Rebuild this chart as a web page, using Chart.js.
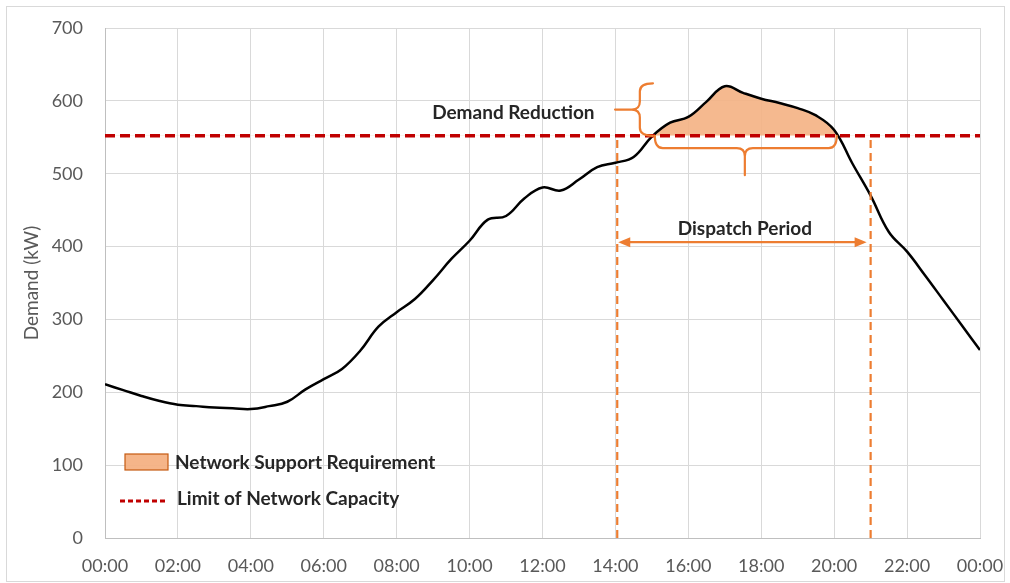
<!DOCTYPE html>
<html>
<head>
<meta charset="utf-8">
<script src="https://cdn.jsdelivr.net/npm/chart.js@4"></script>
<style>
  body { margin: 0; background: #fff; }
  #wrap { position: relative; width: 1010px; height: 583px; }
</style>
</head>
<body>
<div id="wrap"><canvas id="myChart" width="1010" height="583"></canvas></div>
<script>
// half-hourly demand (kW)
var hours = [0,0.5,1,1.5,2,2.5,3,3.5,4,4.5,5,5.5,6,6.5,7,7.5,8,8.5,9,9.5,10,10.5,11,11.5,
             12,12.5,13,13.5,14,14.5,15,15.5,16,16.5,17,17.5,18,18.5,19,19.5,20,20.5,21,21.5,
             22,22.5,23,23.5,24];
var demand = [211,203,195,188,183,181,179,178,177,181,187,204,218,232,257,290,310,328,354,383,
              408,437,442,466,481,477,492,509,515,523,551,570,578,599,620,611,603,597,590,580,
              560,514,470,420,393,360,326,292,258];
var capacity = 552;
var dispatchStart = 14.05;
var dispatchEnd = 21;
var yTicks = [0,100,200,300,400,500,600,700];
var xTicks = [0,2,4,6,8,10,12,14,16,18,20,22,24];

function hhmm(h) {
  var v = h % 24;
  return (v < 10 ? "0" : "") + v + ":00";
}

var orange = "#ED7D31";
var textDark = "#262626";
var axisGrey = "#595959";

var annotations = {
  id: "annotations",
  beforeDraw: function(chart) {
    var ctx = chart.ctx;
    ctx.save();
    ctx.strokeStyle = "#d9d9d9";
    ctx.lineWidth = 1;
    ctx.strokeRect(6.5, 6.5, 998, 575);
    ctx.restore();
  },
  afterDatasetsDraw: function(chart) {
    var ctx = chart.ctx;
    var x = chart.scales.x, y = chart.scales.y;
    var area = chart.chartArea;
    ctx.save();
    ctx.strokeStyle = orange;
    ctx.fillStyle = orange;
    ctx.lineWidth = 2.2;
    ctx.lineCap = "round";

    // vertical brace (demand reduction)
    var ex = x.getPixelForValue(15.03), sx = x.getPixelForValue(14.67), tx = x.getPixelForValue(13.99);
    var y1 = y.getPixelForValue(624), y2 = y.getPixelForValue(capacity), ym = y.getPixelForValue(588);
    var r = 8;
    ctx.beginPath();
    ctx.moveTo(ex, y1);
    ctx.quadraticCurveTo(sx, y1, sx, y1 + r);
    ctx.lineTo(sx, ym - r);
    ctx.quadraticCurveTo(sx, ym, sx - r, ym);
    ctx.lineTo(tx, ym);
    ctx.moveTo(sx - r, ym);
    ctx.quadraticCurveTo(sx, ym, sx, ym + r);
    ctx.lineTo(sx, y2 - r);
    ctx.quadraticCurveTo(sx, y2, ex, y2);
    ctx.stroke();

    // horizontal brace (peak period)
    var x1 = x.getPixelForValue(15.08), x2 = x.getPixelForValue(20.07), xm = x.getPixelForValue(17.55);
    var ey = y.getPixelForValue(capacity), sy = y.getPixelForValue(535), ty = y.getPixelForValue(498);
    ctx.beginPath();
    ctx.moveTo(x1, ey);
    ctx.quadraticCurveTo(x1, sy, x1 + r, sy);
    ctx.lineTo(xm - r, sy);
    ctx.quadraticCurveTo(xm, sy, xm, sy + r);
    ctx.lineTo(xm, ty);
    ctx.moveTo(xm, sy + r);
    ctx.quadraticCurveTo(xm, sy, xm + r, sy);
    ctx.lineTo(x2 - r, sy);
    ctx.quadraticCurveTo(x2, sy, x2, ey);
    ctx.stroke();

    // dispatch arrow
    var ax1 = x.getPixelForValue(dispatchStart) + 1, ax2 = x.getPixelForValue(dispatchEnd) - 4;
    var ay = y.getPixelForValue(406);
    ctx.beginPath();
    ctx.moveTo(ax1 + 6, ay);
    ctx.lineTo(ax2 - 6, ay);
    ctx.stroke();
    ctx.beginPath();
    ctx.moveTo(ax1, ay);
    ctx.lineTo(ax1 + 12, ay - 5);
    ctx.lineTo(ax1 + 12, ay + 5);
    ctx.closePath();
    ctx.fill();
    ctx.beginPath();
    ctx.moveTo(ax2, ay);
    ctx.lineTo(ax2 - 12, ay - 5);
    ctx.lineTo(ax2 - 12, ay + 5);
    ctx.closePath();
    ctx.fill();

    // labels
    ctx.fillStyle = textDark;
    ctx.font = "bold 19px Lato";
    ctx.textAlign = "center";
    ctx.textBaseline = "middle";
    ctx.fillText("Dispatch Period", x.getPixelForValue(17.55), y.getPixelForValue(424));
    ctx.fillText("Demand Reduction", x.getPixelForValue(11.2), y.getPixelForValue(583));

    // legend inside plot area
    var lx = area.left + 20, ly = area.bottom - 75;
    ctx.fillStyle = "rgba(244,177,131,0.95)";
    ctx.fillRect(lx, ly - 9, 43, 16);
    ctx.strokeStyle = "#C55A11";
    ctx.lineWidth = 1.2;
    ctx.strokeRect(lx, ly - 9, 43, 16);
    ctx.strokeStyle = "#C00000";
    ctx.lineWidth = 3;
    ctx.lineCap = "butt";
    ctx.setLineDash([5, 3]);
    ctx.beginPath();
    ctx.moveTo(lx - 5, ly + 38);
    ctx.lineTo(lx + 43, ly + 38);
    ctx.stroke();
    ctx.setLineDash([]);
    ctx.fillStyle = textDark;
    ctx.textAlign = "left";
    ctx.fillText("Network Support Requirement", lx + 50, ly);
    ctx.fillText("Limit of Network Capacity", lx + 52, ly + 36);
    ctx.restore();
  }
};

var ctx = document.getElementById("myChart");
var myChart = new Chart(ctx, {
  type: "line",
  data: {
    datasets: [
      {
        label: "Demand",
        data: hours.map(function(h, i) { return { x: h, y: demand[i] }; }),
        borderColor: "#000000",
        borderWidth: 2.5,
        pointRadius: 0,
        tension: 0.4,
        fill: { target: { value: capacity }, above: "rgba(244,177,131,0.9)", below: "rgba(0,0,0,0)" },
        order: 2
      },
      {
        label: "Limit of Network Capacity",
        data: [{ x: 0, y: capacity }, { x: 24, y: capacity }],
        borderColor: "#C00000",
        borderWidth: 3.5,
        borderDash: [10, 5],
        pointRadius: 0,
        fill: false,
        order: 1
      },
      {
        label: "Dispatch start",
        data: [{ x: dispatchStart, y: 0 }, { x: dispatchStart, y: capacity }],
        borderColor: orange,
        borderWidth: 2.2,
        borderDash: [8, 5],
        pointRadius: 0,
        fill: false,
        order: 1
      },
      {
        label: "Dispatch end",
        data: [{ x: dispatchEnd, y: 0 }, { x: dispatchEnd, y: capacity }],
        borderColor: orange,
        borderWidth: 2.2,
        borderDash: [8, 5],
        pointRadius: 0,
        fill: false,
        order: 1
      }
    ]
  },
  options: {
    responsive: false,
    animation: false,
    layout: { padding: { top: 28, right: 30, left: 20, bottom: 0 } },
    plugins: { legend: { display: false }, tooltip: { enabled: false } },
    scales: {
      x: {
        type: "linear",
        min: 0,
        max: 24,
        afterBuildTicks: function(scale) {
          scale.ticks = xTicks.map(function(v) { return { value: v }; });
        },
        afterFit: function(scale) {
          scale.height = 45;
          scale.paddingLeft = 0;
          scale.paddingRight = 0;
        },
        ticks: {
          callback: function(v) { return hhmm(v); },
          color: axisGrey,
          font: { family: "Lato", size: 18 },
          padding: 17,
          maxRotation: 0
        },
        grid: { color: "#d9d9d9", tickLength: 0 },
        border: { color: "#bfbfbf" }
      },
      y: {
        min: 0,
        max: 700,
        afterBuildTicks: function(scale) {
          scale.ticks = yTicks.map(function(v) { return { value: v }; });
        },
        afterFit: function(scale) {
          scale.width = 85;
          scale.paddingTop = 0;
          scale.paddingBottom = 0;
        },
        ticks: {
          color: axisGrey,
          font: { family: "Lato", size: 18 },
          padding: 22
        },
        title: {
          display: true,
          text: "Demand (kW)",
          color: axisGrey,
          font: { family: "Lato", size: 19 },
          padding: 0
        },
        grid: { color: "#d9d9d9", tickLength: 0 },
        border: { color: "#bfbfbf" }
      }
    }
  },
  plugins: [annotations]
});
</script>
</body>
</html>
